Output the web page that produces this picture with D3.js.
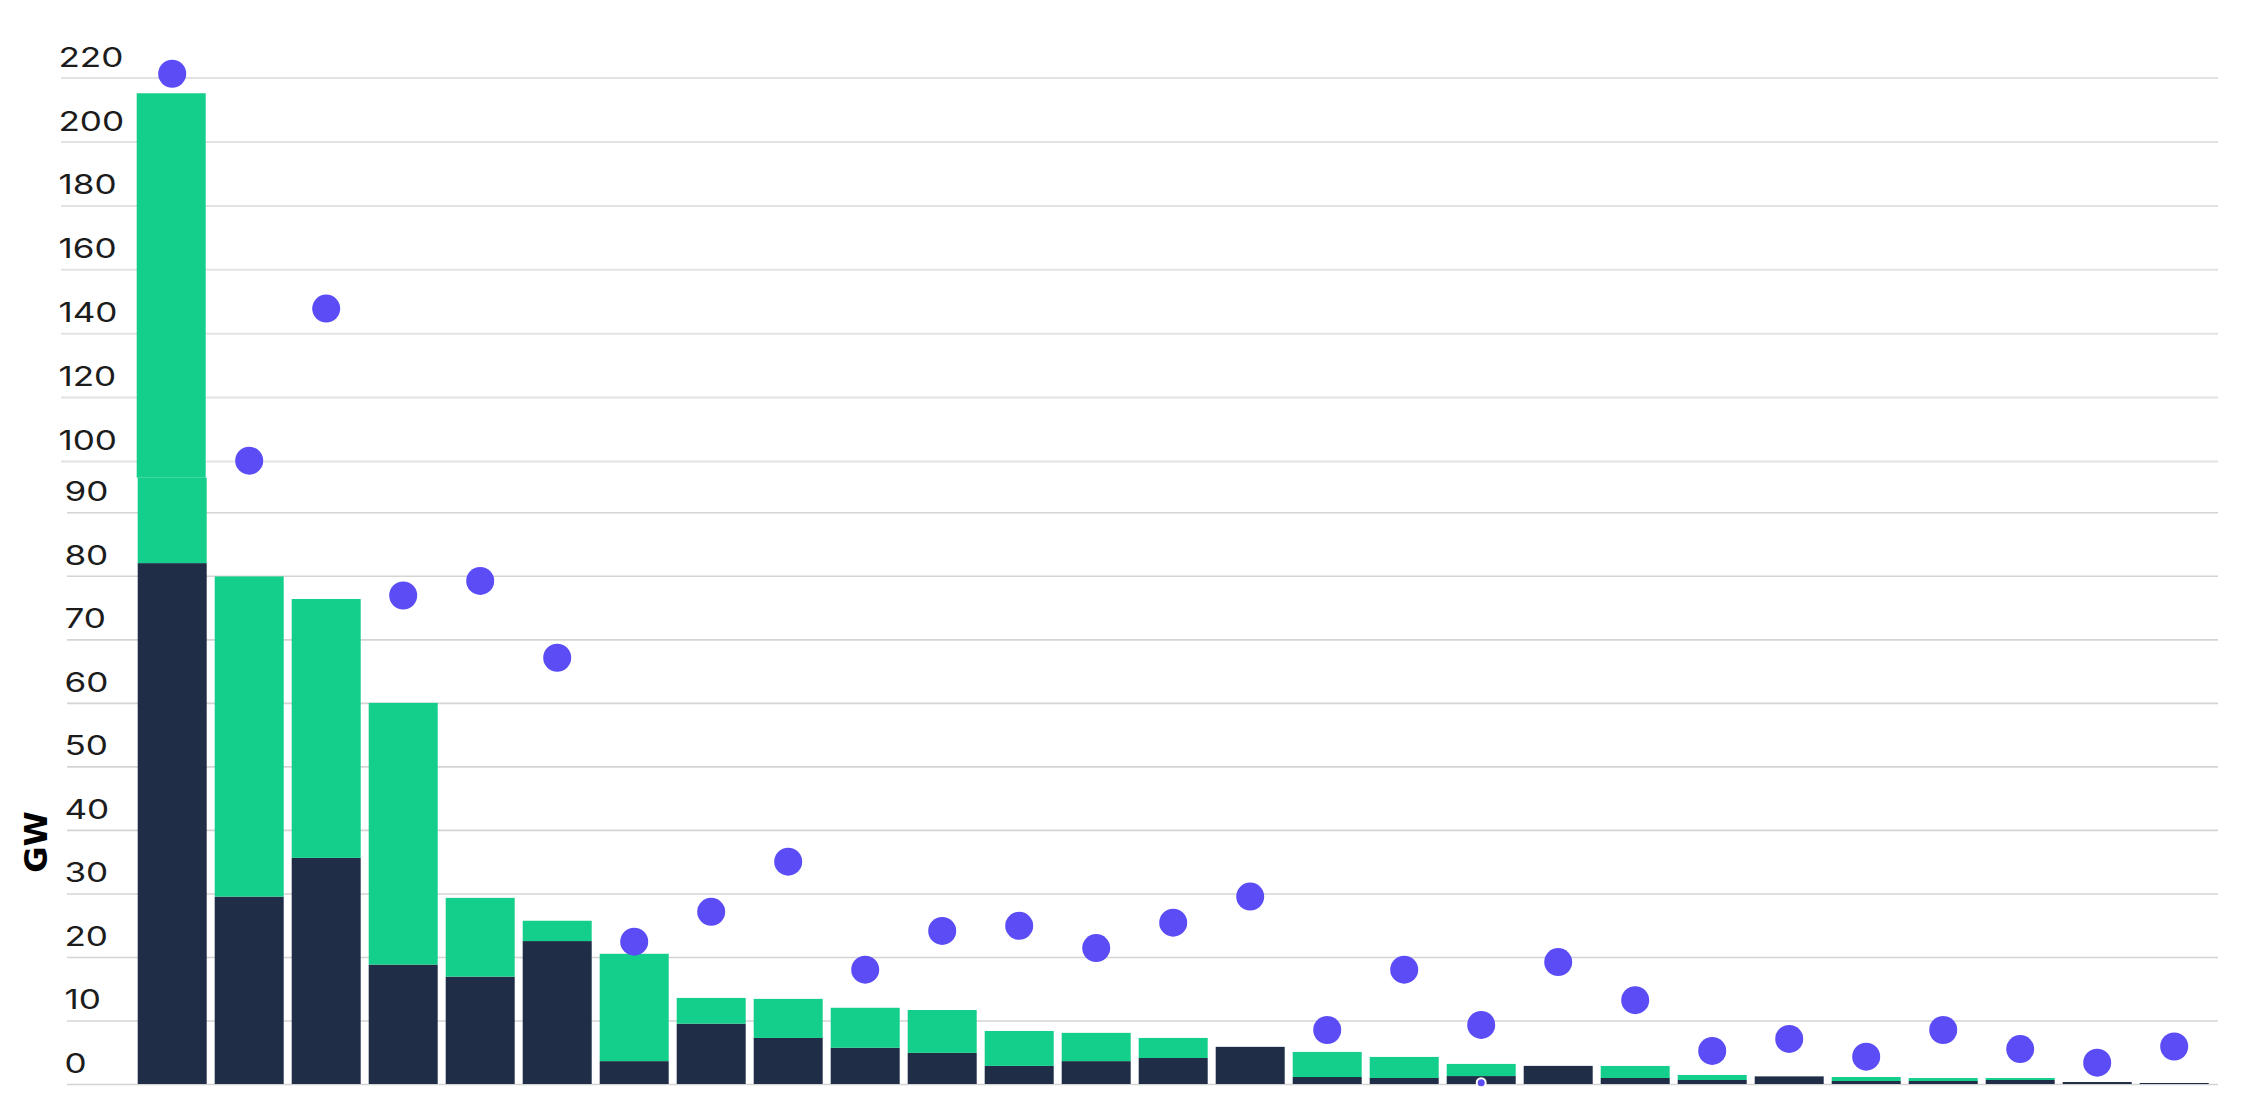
<!DOCTYPE html>
<html><head><meta charset="utf-8">
<script src="https://cdn.jsdelivr.net/npm/d3@7/dist/d3.min.js"></script>
<style>html,body{margin:0;padding:0;background:#fff;overflow:hidden}svg{display:block}</style>
</head><body><svg id="chart" width="2254" height="1093"></svg>
<script>
// ---- data ----
const categories = ["1","2","3","4","5","6","7","8","9","10","11","12","13","14","15","16","17","18","19","20","21","22","23","24","25","26","27"];
const baseValues  = [82.0, 29.5, 35.6, 18.8, 16.9, 22.5, 3.6, 9.5, 7.25, 5.7, 4.9, 2.85, 3.6, 4.1, 5.85, 1.1, 0.95, 1.25, 2.85, 0.95, 0.63, 1.2, 0.47, 0.47, 0.63, 0.31, 0.16];
const addedValues = [133.1, 50.4, 40.75, 41.2, 12.4, 3.2, 16.9, 4.05, 6.15, 6.3, 6.75, 5.5, 4.45, 3.15, 0, 3.95, 3.31, 1.91, 0, 1.89, 0.79, 0, 0.63, 0.47, 0.31, 0, 0];
const dotValues   = [221.2, 100.1, 147.7, 76.9, 79.2, 67.1, 22.4, 27.1, 35.0, 18.0, 24.1, 24.9, 21.4, 25.4, 29.5, 8.5, 18.0, 9.3, 19.2, 13.2, 5.2, 7.1, 4.3, 8.5, 5.5, 3.35, 5.9];
const upperTicks = [100, 120, 140, 160, 180, 200, 220];
const lowerTicks = [0, 10, 20, 30, 40, 50, 60, 70, 80, 90];
const markerCategory = "18";
const markerValue = 0.2;
const yTitle = "GW";

// ---- layout ----
const COLORS = {base: "#1f2d47", added: "#14ce8b", dot: "#5b4cf5", grid: "#d4d4d4", gridUp: "#e3e3e3", text: "#1c1c1c"};
const breakY = 477.7;
const svg = d3.select("#chart");

const x = d3.scaleBand().domain(categories).range([133.7, 2212.7]).paddingInner(8/77).paddingOuter(4/77);
const yLow = d3.scaleLinear().domain([0, 90]).range([1084, 512.3]);
const yHigh = d3.scaleLinear().domain([100, 220]).range([461, 77.6]);
const lowMax = yLow.invert(breakY);

const rows = categories.map((c, i) => ({c, base: baseValues[i], top: baseValues[i] + addedValues[i], dot: dotValues[i]}));

const defs = svg.append("defs");
defs.append("clipPath").attr("id", "clipLow").append("rect").attr("x", 0).attr("y", breakY).attr("width", 2254).attr("height", 1093 - breakY);
defs.append("clipPath").attr("id", "clipHigh").append("rect").attr("x", 0).attr("y", 0).attr("width", 2254).attr("height", breakY);

function styleLabels(sel) {
  sel.attr("text-anchor", "start").attr("x", -2).attr("dy", null).attr("y", -11.5)
    .attr("transform", "scale(1.3,1)")
    .attr("font-family", "Inter, 'DejaVu Sans', sans-serif").attr("font-weight", 400).attr("font-size", 27)
    .attr("fill", COLORS.text);
}

// ---- upper panel ----
const up = svg.append("g");
const upAxis = d3.axisLeft(yHigh).tickValues(upperTicks).tickSize(0).tickPadding(0);
const upG = up.append("g").attr("transform", "translate(61,0)").call(upAxis);
upG.select(".domain").remove();
upG.selectAll(".tick line").attr("x1", 0).attr("x2", 2218 - 61).attr("stroke", COLORS.gridUp).attr("stroke-width", 2);
styleLabels(upG.selectAll(".tick text"));

const upBars = up.append("g").attr("clip-path", "url(#clipHigh)").attr("transform", "translate(-1,0)");
upBars.selectAll("rect.a").data(rows.filter(d => d.top > lowMax)).join("rect")
  .attr("x", d => x(d.c)).attr("width", x.bandwidth())
  .attr("y", d => yHigh(d.top)).attr("height", d => yHigh(d.base) - yHigh(d.top))
  .attr("fill", COLORS.added);

// ---- lower panel ----
const low = svg.append("g");
const lowAxis = d3.axisLeft(yLow).tickValues(lowerTicks).tickSize(0).tickPadding(0);
const lowG = low.append("g").attr("transform", "translate(67,0)").call(lowAxis);
lowG.select(".domain").remove();
lowG.selectAll(".tick line").attr("x1", 0).attr("x2", 2218 - 67).attr("stroke", COLORS.grid).attr("stroke-width", 1.6);
styleLabels(lowG.selectAll(".tick text"));

const lowBars = low.append("g").attr("clip-path", "url(#clipLow)");
lowBars.selectAll("rect.b").data(rows).join("rect")
  .attr("x", d => x(d.c)).attr("width", x.bandwidth())
  .attr("y", d => yLow(d.base)).attr("height", d => yLow(0) - yLow(d.base))
  .attr("fill", COLORS.base);
lowBars.selectAll("rect.g").data(rows.filter(d => d.top > d.base)).join("rect")
  .attr("x", d => x(d.c)).attr("width", x.bandwidth())
  .attr("y", d => yLow(d.top)).attr("height", d => yLow(d.base) - yLow(d.top))
  .attr("fill", COLORS.added);

// ---- dots ----
const yDot = v => v > lowMax ? yHigh(v) : yLow(v);
svg.append("g").selectAll("circle").data(rows).join("circle")
  .attr("cx", d => x(d.c) + x.bandwidth() / 2)
  .attr("cy", d => yDot(d.dot))
  .attr("r", 14)
  .attr("fill", COLORS.dot);

svg.append("circle")
  .attr("cx", x(markerCategory) + x.bandwidth() / 2)
  .attr("cy", yLow(markerValue))
  .attr("r", 4.5)
  .attr("fill", COLORS.dot).attr("stroke", "#fff").attr("stroke-width", 2);

// ---- y title ----
svg.append("text")
  .attr("transform", "translate(47,842) rotate(-90)")
  .attr("text-anchor", "middle")
  .attr("font-family", "'DejaVu Sans', sans-serif").attr("font-weight", "bold").attr("font-size", 32)
  .attr("fill", "#000")
  .text(yTitle);
</script></body></html>
